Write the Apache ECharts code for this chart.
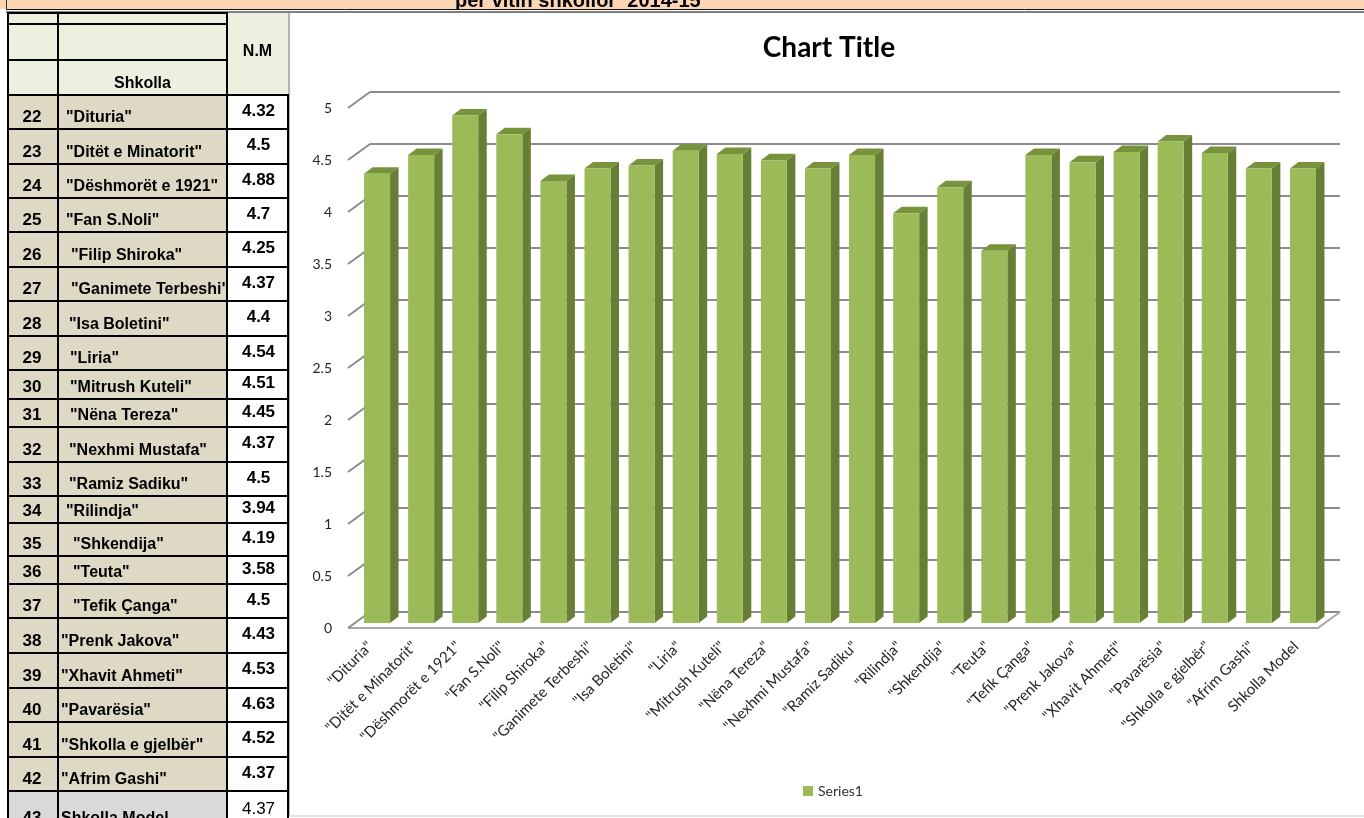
<!DOCTYPE html>
<html>
<head>
<meta charset="UTF-8">
<script type="text/javascript" src="https://cdn.jsdelivr.net/npm/echarts/dist/echarts.min.js"></script>
<title>Nota mesatare sipas shkollave</title>
<style>
html, body { margin: 0; padding: 0; background: #fff; }
#main { width: 1364px; height: 818px; }
</style>
</head>
<body>
<div id="main"></div>
<script type="text/javascript">
// data
var rowNums = [22, 23, 24, 25, 26, 27, 28, 29, 30, 31, 32, 33, 34, 35, 36, 37, 38, 39, 40, 41, 42, 43];
var schools = ['"Dituria"', '"Ditët e Minatorit"', '"Dëshmorët e 1921"', '"Fan S.Noli"', '"Filip Shiroka"',
	'"Ganimete Terbeshi"', '"Isa Boletini"', '"Liria"', '"Mitrush Kuteli"', '"Nëna Tereza"', '"Nexhmi Mustafa"',
	'"Ramiz Sadiku"', '"Rilindja"', '"Shkendija"', '"Teuta"', '"Tefik Çanga"', '"Prenk Jakova"', '"Xhavit Ahmeti"',
	'"Pavarësia"', '"Shkolla e gjelbër"', '"Afrim Gashi"', 'Shkolla Model'];
var nmLabels = ['4.32', '4.5', '4.88', '4.7', '4.25', '4.37', '4.4', '4.54', '4.51', '4.45', '4.37',
	'4.5', '3.94', '4.19', '3.58', '4.5', '4.43', '4.53', '4.63', '4.52', '4.37', '4.37'];
var nmValues = [4.32, 4.5, 4.88, 4.7, 4.25, 4.37, 4.4, 4.54, 4.51, 4.45, 4.37,
	4.5, 3.94, 4.19, 3.58, 4.5, 4.43, 4.53, 4.63, 4.52, 4.37, 4.37];
var yTicks = [0, 0.5, 1, 1.5, 2, 2.5, 3, 3.5, 4, 4.5, 5];
var headerText = 'per vitin shkollor  2014-15';

// table layout
var colX = [8, 58, 227, 288];
var rowY = [95, 129, 164, 198, 232, 267, 301, 336, 370, 399, 427, 462, 496, 523, 556, 584, 618, 653, 688, 722, 757, 791, 830];
var nameIndent = [8, 8, 8, 8, 13, 13, 11, 12, 12, 12, 11, 11, 8, 15, 15, 15, 3, 3, 3, 3, 3, 3];

var DEPTH_X = 22, DEPTH_Y = -16;
var nameFont = 'bold 16px "Liberation Sans", Arial, sans-serif';
var numFont = 'bold 17px "Liberation Sans", Arial, sans-serif';

function cell(x0, y0, x1, y1, fill, stroke) {
	return {
		type: 'rect', shape: { x: x0, y: y0, width: x1 - x0, height: y1 - y0 },
		style: { fill: fill, stroke: stroke || '#000', lineWidth: 2 }
	};
}
function txt(x, y, s, font, align, valign) {
	return {
		type: 'text', x: x, y: y,
		style: { text: s, font: font, fill: '#000', textAlign: align, textVerticalAlign: valign }
	};
}

function buildGraphic() {
	var els = [];
	// top strip
	els.push({ type: 'rect', shape: { x: 0, y: 0, width: 1364, height: 9 }, style: { fill: '#FCD5B4' } });
	els.push(txt(455, 11, headerText, 'bold 20px "Liberation Sans", Arial, sans-serif', 'left', 'bottom'));
	els.push({ type: 'rect', shape: { x: 0, y: 9, width: 1364, height: 4 }, style: { fill: '#fff' } });
	els.push({ type: 'line', shape: { x1: 6, y1: 9.5, x2: 1364, y2: 9.5 }, style: { stroke: '#111', lineWidth: 1 } });
	els.push({ type: 'line', shape: { x1: 6, y1: 12, x2: 1364, y2: 12 }, style: { stroke: '#555', lineWidth: 1.5 } });
	els.push({ type: 'line', shape: { x1: 6.5, y1: 0, x2: 6.5, y2: 10 }, style: { stroke: '#333', lineWidth: 1 } });

	// chart area border
	els.push({ type: 'line', shape: { x1: 289, y1: 13, x2: 289, y2: 816 }, style: { stroke: '#9a9a9a', lineWidth: 1.5 } });
	els.push({ type: 'line', shape: { x1: 289, y1: 816, x2: 1364, y2: 816 }, style: { stroke: '#d9d9d9', lineWidth: 1.5 } });

	// header
	var hdr = '#EBF1DE';
	els.push({ type: 'rect', shape: { x: colX[2], y: 13, width: colX[3] - colX[2], height: rowY[0] - 13 }, style: { fill: hdr } });
	els.push(cell(colX[0], 13, colX[1], 24, hdr));
	els.push(cell(colX[1], 13, colX[2], 24, hdr));
	els.push(cell(colX[0], 24, colX[1], 60, hdr));
	els.push(cell(colX[1], 24, colX[2], 60, hdr));
	els.push(cell(colX[0], 60, colX[1], rowY[0], hdr));
	els.push(cell(colX[1], 60, colX[2], rowY[0], hdr));
	els.push(txt((colX[1] + colX[2]) / 2, 92, 'Shkolla', nameFont, 'center', 'bottom'));
	els.push(txt((colX[2] + colX[3]) / 2, 52, 'N.M', nameFont, 'center', 'middle'));

	// rows: tan cells first, names, then value cells over any overflow
	for (var i = 0; i < rowNums.length; i++) {
		var last = i === rowNums.length - 1;
		var bg = last ? '#D9D9D9' : '#DDD9C4';
		els.push(cell(colX[0], rowY[i], colX[1], rowY[i + 1], bg));
		els.push(cell(colX[1], rowY[i], colX[2], rowY[i + 1], bg));
	}
	for (var i = 0; i < rowNums.length; i++) {
		var yb = rowY[i + 1] - 3;
		els.push(txt((colX[0] + colX[1]) / 2 - 1, yb, String(rowNums[i]), numFont, 'center', 'bottom'));
		els.push(txt(colX[1] + nameIndent[i], yb, schools[i], nameFont, 'left', 'bottom'));
	}
	for (var i = 0; i < rowNums.length; i++) {
		var last = i === rowNums.length - 1;
		els.push(cell(colX[2], rowY[i], colX[3], rowY[i + 1], '#fff'));
		els.push(txt((colX[2] + colX[3]) / 2 + 1, (rowY[i] + rowY[i + 1]) / 2 - 1, nmLabels[i],
			last ? '17px "Liberation Sans", Arial, sans-serif' : numFont, 'center', 'middle'));
	}

	// chart title
	els.push(txt(829, 48, 'Chart Title', 'bold 28px Lato, sans-serif', 'center', 'middle'));
	return els;
}

var myChart = echarts.init(document.getElementById('main'));

var option = {
	animation: false,
	backgroundColor: '#fff',
	textStyle: { fontFamily: 'Lato' },
	graphic: { elements: buildGraphic() },
	legend: {
		data: [{ name: 'Series1', icon: 'rect' }],
		left: 803, top: 784, padding: 0,
		itemWidth: 10, itemHeight: 10,
		textStyle: { fontSize: 14, color: '#333', fontFamily: 'Lato' }
	},
	grid: [
		{ left: 348, top: 108, width: 970, height: 520, outerBoundsMode: 'none' },
		{ left: 370, top: 92, width: 970, height: 520, outerBoundsMode: 'none' }
	],
	xAxis: [
		{
			type: 'category', gridIndex: 0, data: schools,
			axisLine: { show: false }, axisTick: { show: false },
			axisLabel: { interval: 0, rotate: 45, margin: 16, fontSize: 15, color: '#262626', fontFamily: 'Lato' }
		},
		{ type: 'category', gridIndex: 1, data: schools, show: false }
	],
	yAxis: [
		{
			type: 'value', gridIndex: 0, min: 0, max: 5, interval: 0.5,
			axisLine: { show: false }, axisTick: { show: false }, splitLine: { show: false },
			axisLabel: { margin: 16, fontSize: 14, color: '#262626', fontFamily: 'Lato' }
		},
		{
			type: 'value', gridIndex: 1, min: 0, max: 5, interval: 0.5,
			axisLine: { show: false }, axisTick: { show: false }, axisLabel: { show: false },
			splitLine: { lineStyle: { color: '#8c8c8c', width: 2 } }
		}
	],
	series: [
		{
			// floor edges
			type: 'custom', name: 'floor', xAxisIndex: 0, yAxisIndex: 0, silent: true, z: 1,
			data: [[0, 0]],
			renderItem: function (params, api) {
				var cs = params.coordSys;
				var y0 = api.coord([0, 0])[1];
				return {
					type: 'polyline',
					shape: { points: [[cs.x, y0], [cs.x + cs.width, y0], [cs.x + cs.width + DEPTH_X, y0 + DEPTH_Y]] },
					style: { stroke: '#a8a8a8', lineWidth: 2, fill: 'none' }
				};
			}
		},
		{
			// side wall ticks
			type: 'custom', name: 'wall', xAxisIndex: 0, yAxisIndex: 0, silent: true, z: 1,
			data: yTicks.map(function (v) { return [0, v]; }),
			renderItem: function (params, api) {
				var cs = params.coordSys;
				var y = api.coord([0, api.value(1)])[1];
				return {
					type: 'line',
					shape: { x1: cs.x, y1: y, x2: cs.x + DEPTH_X, y2: y + DEPTH_Y },
					style: { stroke: '#8c8c8c', lineWidth: 2 }
				};
			}
		},
		{
			type: 'custom', name: 'Series1', xAxisIndex: 0, yAxisIndex: 0, z: 3,
			itemStyle: { color: '#9BBB59' },
			data: nmValues.map(function (v, i) { return [i, v]; }),
			renderItem: function (params, api) {
				var c = api.coord([api.value(0), api.value(1)]);
				var b = api.coord([api.value(0), 0]);
				var w = api.size([1, 0])[0] * 0.59;
				var x0 = c[0] + 7 - w / 2, x1 = x0 + w;
				var yt = c[1] - 5, yb = b[1] - 5;
				var dx = 8.5, dy = -6.5;
				return {
					type: 'group',
					children: [
						{ type: 'polygon', shape: { points: [[x1, yt], [x1 + dx, yt + dy], [x1 + dx, yb + dy], [x1, yb]] }, style: { fill: '#677F34' } },
						{ type: 'polygon', shape: { points: [[x0, yt], [x0 + dx, yt + dy], [x1 + dx, yt + dy], [x1, yt]] }, style: { fill: '#77933C' } },
						{ type: 'rect', shape: { x: x0, y: yt, width: w, height: yb - yt }, style: { fill: '#9BBB59' } }
					]
				};
			}
		}
	]
};

myChart.setOption(option);
</script>
</body>
</html>
